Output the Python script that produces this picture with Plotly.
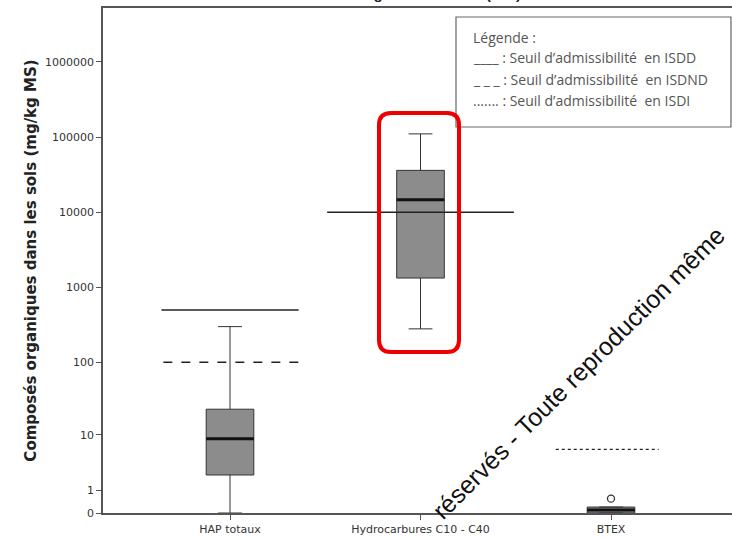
import numpy as np
import plotly.graph_objects as go

# ---------------- data ----------------
categories = ["HAP totaux", "Hydrocarbures C10 - C40", "BTEX"]
lower_whisker = [0.0, 280.0, 0.0]
q1_values = [2.2, 1330.0, 0.0]
medians = [8.7, 14600.0, 0.1]
q3_values = [23.0, 36000.0, 0.2]
upper_whisker = [300.0, 110000.0, 0.2]
outlier_category = ["BTEX"]
outlier_values = [0.55]

threshold_category = ["HAP totaux", "HAP totaux", "Hydrocarbures C10 - C40", "BTEX"]
threshold_values = [500.0, 100.0, 10000.0, 6.0]
threshold_kind = ["ISDD", "ISDND", "ISDD", "ISDI"]

y_tick_values = [0, 1, 10, 100, 1000, 10000, 100000, 1000000]
y_tick_labels = ["0", "1", "10", "100", "1000", "10000", "100000", "1000000"]

title_text = "Installation de stockage des déchets (ISD)"
y_title = "Composés organiques dans les sols (mg/kg MS)"
legend_lines = ["Légende :",
                "____ : Seuil d’admissibilité  en ISDD",
                "_ _ _ : Seuil d’admissibilité  en ISDND",
                "....... : Seuil d’admissibilité  en ISDI"]
watermark = "réservés - Toute reproduction même"

# ---------------- helpers ----------------
def t(v):
    return np.log10(np.asarray(v, dtype=float) + 1.0)

pos = {c: i for i, c in enumerate(categories)}
W, H = 732, 538
L, R, T, B = 103, 0, 8, 25
PW, PH = W - L - R, H - T - B

def px(x):
    return (x - L) / PW

def py(y):
    return (H - B - y) / PH

box_w = 0.25
line_style = {"ISDD": dict(dash="solid", width=1.4),
              "ISDND": dict(dash="dash", width=1.4),
              "ISDI": dict(dash="dot", width=1.2)}
line_extent = {("HAP totaux", "ISDD"): (-0.36, 0.36),
               ("HAP totaux", "ISDND"): (-0.35, 0.37),
               ("Hydrocarbures C10 - C40", "ISDD"): (-0.49, 0.49),
               ("BTEX", "ISDI"): (-0.29, 0.25)}

fig = go.Figure()

# threshold lines
for c, v, k in zip(threshold_category, threshold_values, threshold_kind):
    a, b = line_extent[(c, k)]
    fig.add_trace(go.Scatter(x=[pos[c] + a, pos[c] + b], y=[t(v)] * 2, mode="lines",
                             line=dict(color="#222222", **line_style[k]),
                             showlegend=False, hoverinfo="skip"))

# boxes
for i, c in enumerate(categories):
    fig.add_trace(go.Box(
        x=[i], q1=[t(q1_values[i])], median=[t(medians[i])], q3=[t(q3_values[i])],
        lowerfence=[t(lower_whisker[i])], upperfence=[t(upper_whisker[i])],
        width=box_w, whiskerwidth=0.5, fillcolor="#8c8c8c",
        line=dict(color="#333333", width=1), boxpoints=False, showlegend=False))
    fig.add_trace(go.Scatter(x=[i - box_w / 2, i + box_w / 2], y=[t(medians[i])] * 2,
                             mode="lines", line=dict(color="#111111", width=3),
                             showlegend=False, hoverinfo="skip"))

# outliers
fig.add_trace(go.Scatter(x=[pos[c] for c in outlier_category], y=t(outlier_values),
                         mode="markers",
                         marker=dict(symbol="circle-open", size=7, color="#333333",
                                     line=dict(width=1.3)),
                         showlegend=False, hoverinfo="skip"))

x0 = -(230 - L) / 190.5
x1 = x0 + PW / 190.5
fig.update_xaxes(range=[x0, x1], tickmode="array", tickvals=list(range(len(categories))),
                 ticktext=categories, showgrid=False, zeroline=False,
                 showline=True, linecolor="#555555", linewidth=1.5, mirror=True,
                 ticks="outside", ticklen=5, tickcolor="#555555",
                 tickfont=dict(family="DejaVu Sans", size=11, color="#333333"))
fig.update_yaxes(range=[0, PH / 75.2], tickmode="array", tickvals=list(t(y_tick_values)),
                 ticktext=y_tick_labels, showgrid=False, zeroline=False,
                 showline=True, linecolor="#555555", linewidth=1.5,
                 ticks="outside", ticklen=5, tickcolor="#555555",
                 tickfont=dict(family="DejaVu Sans", size=11, color="#333333"),
                 title=dict(text="<b>" + y_title + "</b>", standoff=5,
                            font=dict(family="DejaVu Sans", size=15, color="#222222")))

shapes = []
# legend frame
shapes.append(dict(type="rect", xref="paper", yref="paper", x0=px(456), x1=px(731),
                   y0=py(127), y1=py(17), line=dict(color="#666666", width=1.2),
                   fillcolor="white", layer="above"))
# red rounded rectangle
xa, xb, ya, yb, r = px(379), px(459), py(113), py(352), 12
rx, ry = r / PW, r / PH
path = (f"M {xa+rx},{ya} L {xb-rx},{ya} Q {xb},{ya} {xb},{ya-ry} "
        f"L {xb},{yb+ry} Q {xb},{yb} {xb-rx},{yb} L {xa+rx},{yb} "
        f"Q {xa},{yb} {xa},{yb+ry} L {xa},{ya-ry} Q {xa},{ya} {xa+rx},{ya} Z")
shapes.append(dict(type="path", xref="paper", yref="paper", path=path,
                   line=dict(color="#ee0000", width=4), layer="above"))

annotations = []
annotations.append(dict(text="<b>" + title_text + "</b>", xref="paper", yref="paper",
                        x=px(371), y=py(4), xanchor="center", yanchor="bottom",
                        showarrow=False, font=dict(family="Arial", size=15, color="#222222")))
for j, line in enumerate(legend_lines):
    annotations.append(dict(text=line, xref="paper", yref="paper", x=px(471),
                            y=py(37 + 21 * j), xanchor="left", yanchor="middle",
                            showarrow=False,
                            font=dict(family="Open Sans", size=14, color="#555555")))
annotations.append(dict(text=watermark, xref="paper", yref="paper", x=px(578), y=py(373),
                        xanchor="center", yanchor="middle", textangle=-45, showarrow=False,
                        font=dict(family="Arial", size=25, color="#111111")))

fig.update_layout(width=W, height=H, margin=dict(l=L, r=R, t=T, b=B),
                  plot_bgcolor="white", paper_bgcolor="white",
                  shapes=shapes, annotations=annotations, showlegend=False)

fig.write_html("out.html")
